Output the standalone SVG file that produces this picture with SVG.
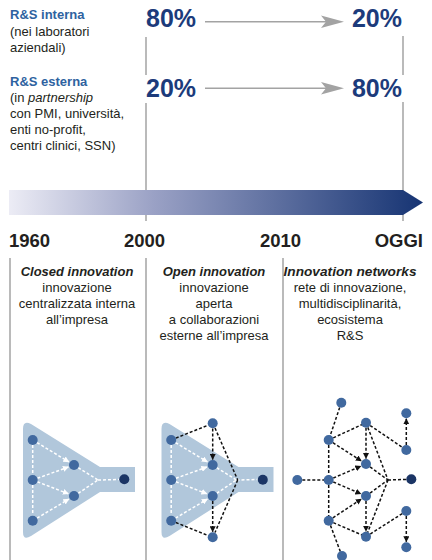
<svg xmlns="http://www.w3.org/2000/svg" width="432" height="560" viewBox="0 0 432 560">
<defs>
<linearGradient id="tl" x1="0" y1="0" x2="1" y2="0">
<stop offset="0" stop-color="#ececf5"/>
<stop offset="0.35" stop-color="#9aa1c5"/>
<stop offset="1" stop-color="#163473"/>
</linearGradient>
<marker id="wa" viewBox="0 0 6 6" refX="5.5" refY="3" markerWidth="6" markerHeight="6" markerUnits="userSpaceOnUse" orient="auto"><path d="M0,0 L6,3 L0,6 Z" fill="#ffffff"/></marker>
<marker id="ba" viewBox="0 0 6 6" refX="5.5" refY="3" markerWidth="6" markerHeight="6" markerUnits="userSpaceOnUse" orient="auto"><path d="M0,0 L6,3 L0,6 Z" fill="#111111"/></marker>
<path id="funnel" d="M23,429 Q23,420 31,424 L100,467 L135,467 L135,492 L100,492 L31,536 Q23,541 23,532 Z"/>
</defs>
<style>
text{font-family:"Liberation Sans",Arial,sans-serif;fill:#231f20}
.lbl{font-size:13px}
.hd{font-size:13px;font-weight:bold;fill:#2e62a0}
.pct{font-size:25px;font-weight:bold;fill:#1c3b7b}
.yr{font-size:18.5px;font-weight:bold}
.col{font-size:13px;text-anchor:middle}
.ci{font-weight:bold;font-style:italic}
.vl{stroke:#8c8c8c;stroke-width:1.2;fill:none}
.ga{stroke:#a3a3a3;stroke-width:1.5}
.fn{fill:#b1c7db}
.nd{fill:#41699f}
.nk{fill:#1b3565}
.wd{stroke:#ffffff;stroke-width:1.5;stroke-dasharray:3 2;fill:none}
.bd{stroke:#111111;stroke-width:1.5;stroke-dasharray:3 2;fill:none}
</style>

<g id="guides">
<line class="vl" x1="146" y1="37" x2="146" y2="75"/>
<line class="vl" x1="146" y1="103" x2="146" y2="221"/>
<line class="vl" x1="403" y1="36" x2="403" y2="75"/>
<line class="vl" x1="403" y1="102" x2="403" y2="221"/>
<line class="vl" x1="10" y1="258" x2="10" y2="560"/>
<line class="vl" x1="146" y1="258" x2="146" y2="560"/>
<line class="vl" x1="283" y1="258" x2="283" y2="560"/>
</g>

<g id="labels-left">
<text class="hd" x="10" y="19">R&amp;S interna</text>
<text class="lbl" x="10" y="36">(nei laboratori</text>
<text class="lbl" x="10" y="52">aziendali)</text>
<text class="hd" x="10" y="86">R&amp;S esterna</text>
<text class="lbl" x="10" y="102">(in <tspan font-style="italic">partnership</tspan></text>
<text class="lbl" x="10" y="118">con PMI, università,</text>
<text class="lbl" x="10" y="134">enti no-profit,</text>
<text class="lbl" x="10" y="150">centri clinici, SSN)</text>
</g>

<g id="percent">
<text class="pct" x="146" y="27">80%</text>
<text class="pct" x="146" y="97">20%</text>
<text class="pct" x="402" y="27" text-anchor="end">20%</text>
<text class="pct" x="402" y="97" text-anchor="end">80%</text>
</g>

<g id="top-arrows">
<line class="ga" x1="205" y1="21.7" x2="330" y2="21.7"/>
<path d="M321,15.5 L344,21.7 L321,28 L326,21.7 Z" fill="#a3a3a3"/>
<line class="ga" x1="205" y1="88.3" x2="330" y2="88.3"/>
<path d="M321,82 L344,88.3 L321,94.6 L326,88.3 Z" fill="#a3a3a3"/>
</g>

<g id="timeline">
<path d="M9,190 L403,190 L423,202.5 L403,215 L9,215 Z" fill="url(#tl)"/>
<text class="yr" x="9" y="247">1960</text>
<text class="yr" x="124" y="247">2000</text>
<text class="yr" x="260" y="247">2010</text>
<text class="yr" x="423" y="247" text-anchor="end">OGGI</text>
</g>

<g id="col-closed">
<text class="col ci" x="77" y="276">Closed innovation</text>
<text class="col" x="77" y="292">innovazione</text>
<text class="col" x="77" y="308">centralizzata interna</text>
<text class="col" x="77" y="324">all’impresa</text>
</g>
<g id="col-open">
<text class="col ci" x="214" y="276">Open innovation</text>
<text class="col" x="214" y="292">innovazione</text>
<text class="col" x="214" y="308">aperta</text>
<text class="col" x="214" y="324">a collaborazioni</text>
<text class="col" x="214" y="340">esterne all’impresa</text>
</g>
<g id="col-networks">
<text class="col ci" x="350" y="276" textLength="133" lengthAdjust="spacingAndGlyphs">Innovation networks</text>
<text class="col" x="350" y="292">rete di innovazione,</text>
<text class="col" x="350" y="308">multidisciplinarità,</text>
<text class="col" x="350" y="324">ecosistema</text>
<text class="col" x="350" y="340">R&amp;S</text>
</g>

<g id="diagram-closed">
<use href="#funnel" class="fn"/>
<g id="closed-connectors">
<line class="wd" x1="32.7" y1="445" x2="32.7" y2="475"/>
<line class="wd" x1="32.7" y1="485" x2="32.7" y2="515"/>
<line class="wd" x1="37" y1="442.6" x2="68.9" y2="461.9" marker-end="url(#wa)"/>
<line class="wd" x1="37.4" y1="478.3" x2="68.4" y2="467" marker-end="url(#wa)"/>
<line class="wd" x1="37.4" y1="481.8" x2="68.4" y2="493.8" marker-end="url(#wa)"/>
<line class="wd" x1="37" y1="518.1" x2="68.9" y2="499.1" marker-end="url(#wa)"/>
<line class="wd" x1="78.2" y1="467.7" x2="98" y2="480"/>
<line class="wd" x1="78.2" y1="493.3" x2="98" y2="480"/>
<line class="wd" x1="98" y1="480" x2="119" y2="479.5"/>
</g>
<circle class="nd" cx="32.7" cy="440" r="5"/>
<circle class="nd" cx="32.7" cy="480" r="5"/>
<circle class="nd" cx="32.7" cy="520.7" r="5"/>
<circle class="nd" cx="74" cy="465" r="5"/>
<circle class="nd" cx="74" cy="496" r="5"/>
<circle class="nk" cx="124.3" cy="479.3" r="5"/>
</g>

<g id="diagram-open" transform="translate(138.5,0)">
<use href="#funnel" class="fn"/>
<g id="open-connectors">
<line class="wd" x1="32.7" y1="445" x2="32.7" y2="475"/>
<line class="wd" x1="32.7" y1="485" x2="32.7" y2="515"/>
<line class="wd" x1="37" y1="442.6" x2="68.9" y2="461.9" marker-end="url(#wa)"/>
<line class="wd" x1="37.4" y1="478.3" x2="68.4" y2="467" marker-end="url(#wa)"/>
<line class="wd" x1="37.4" y1="481.8" x2="68.4" y2="493.8" marker-end="url(#wa)"/>
<line class="wd" x1="37" y1="518.1" x2="68.9" y2="499.1" marker-end="url(#wa)"/>
<line class="wd" x1="78.2" y1="467.7" x2="98" y2="480"/>
<line class="wd" x1="78.2" y1="493.3" x2="98" y2="480"/>
<line class="wd" x1="98" y1="480" x2="119" y2="479.5"/>
<line class="bd" x1="37.3" y1="438.1" x2="69.6" y2="425.2"/>
<line class="bd" x1="74.2" y1="428.5" x2="74.2" y2="459.5" marker-end="url(#ba)"/>
<line class="bd" x1="76.5" y1="428" x2="99.2" y2="480"/>
<line class="bd" x1="99.2" y1="480" x2="76.5" y2="532.5"/>
<line class="bd" x1="74.2" y1="501" x2="74.2" y2="531.8" marker-end="url(#ba)"/>
<line class="bd" x1="37.3" y1="522.5" x2="69.6" y2="535.5"/>
</g>
<circle class="nd" cx="32.7" cy="440" r="5"/>
<circle class="nd" cx="32.7" cy="480" r="5"/>
<circle class="nd" cx="32.7" cy="520.7" r="5"/>
<circle class="nd" cx="74.2" cy="465" r="5"/>
<circle class="nd" cx="74.2" cy="496" r="5"/>
<circle class="nd" cx="74.2" cy="423.3" r="5"/>
<circle class="nd" cx="74.2" cy="537.3" r="5"/>
<circle class="nk" cx="124.3" cy="479.8" r="5"/>
</g>

<g id="diagram-networks">
<g id="network-connectors">
<line class="bd" x1="341.3" y1="402.7" x2="328.7" y2="440"/>
<line class="bd" x1="328.7" y1="440" x2="366" y2="422.7"/>
<line class="bd" x1="366" y1="422.7" x2="406.3" y2="450"/>
<line class="bd" x1="366" y1="422.7" x2="388" y2="480"/>
<line class="bd" x1="328.7" y1="440" x2="328.7" y2="480"/>
<line class="bd" x1="328.7" y1="480" x2="328.7" y2="520.7"/>
<line class="bd" x1="297.3" y1="480" x2="328.7" y2="480"/>
<line class="bd" x1="366" y1="464" x2="388" y2="480"/>
<line class="bd" x1="366" y1="496" x2="388" y2="480"/>
<line class="bd" x1="388" y1="480" x2="411.3" y2="479.3"/>
<line class="bd" x1="388" y1="480" x2="366" y2="536.7"/>
<line class="bd" x1="328.7" y1="520.7" x2="366" y2="536.7"/>
<line class="bd" x1="366" y1="536.7" x2="406.3" y2="511"/>
<line class="bd" x1="328.7" y1="520.7" x2="342" y2="556"/>
<line class="bd" x1="366" y1="427.7" x2="366" y2="458.5" marker-end="url(#ba)"/>
<line class="bd" x1="406.3" y1="445" x2="406.3" y2="418.8" marker-end="url(#ba)"/>
<line class="bd" x1="332.9" y1="442.7" x2="361.4" y2="461" marker-end="url(#ba)"/>
<line class="bd" x1="333.3" y1="478" x2="360.9" y2="466.2" marker-end="url(#ba)"/>
<line class="bd" x1="333.3" y1="482" x2="360.9" y2="493.8" marker-end="url(#ba)"/>
<line class="bd" x1="332.9" y1="517.9" x2="361.4" y2="499" marker-end="url(#ba)"/>
<line class="bd" x1="366" y1="501" x2="366" y2="531.2" marker-end="url(#ba)"/>
<line class="bd" x1="406.3" y1="516" x2="406.3" y2="541.8" marker-end="url(#ba)"/>
</g>
<circle class="nd" cx="341.3" cy="402.7" r="5"/>
<circle class="nd" cx="366" cy="422.7" r="5"/>
<circle class="nd" cx="406.3" cy="413.3" r="5"/>
<circle class="nd" cx="406.3" cy="450" r="5"/>
<circle class="nd" cx="328.7" cy="440" r="5"/>
<circle class="nd" cx="366" cy="464" r="5"/>
<circle class="nd" cx="297.3" cy="480" r="5"/>
<circle class="nd" cx="328.7" cy="480" r="5"/>
<circle class="nk" cx="411.3" cy="479.3" r="5"/>
<circle class="nd" cx="366" cy="496" r="5"/>
<circle class="nd" cx="328.7" cy="520.7" r="5"/>
<circle class="nd" cx="406.3" cy="511" r="5"/>
<circle class="nd" cx="366" cy="536.7" r="5"/>
<circle class="nd" cx="406.3" cy="547.3" r="5"/>
<circle class="nd" cx="342" cy="556" r="5"/>
</g>
</svg>
